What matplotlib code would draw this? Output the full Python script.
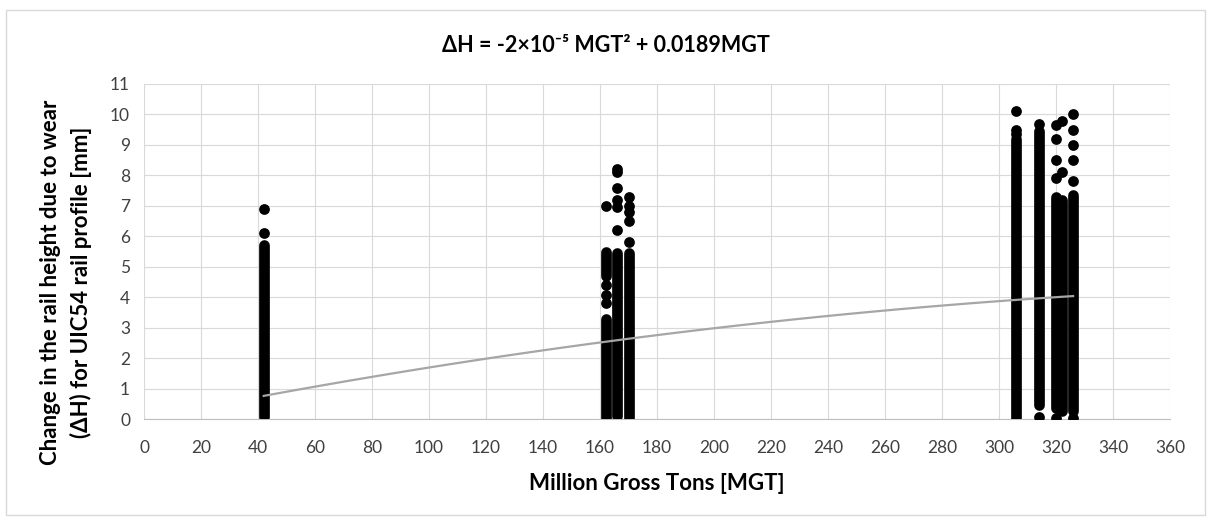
import numpy as np
import matplotlib.pyplot as plt
from matplotlib.patches import Rectangle

# MGT position of each measured column
col_x = [42, 162, 166, 170, 306, 314, 320, 322, 326]
# separate points
col_pts = [
    [6.9, 6.1],
    [7.0, 4.4, 4.07, 3.8],
    [8.2, 8.1, 7.6, 7.2, 6.95, 6.2],
    [7.3, 7.0, 6.8, 6.5, 5.8],
    [10.1, 9.5, 9.35],
    [9.7, 0.05],
    [9.65, 9.2, 8.5, 7.9, 0.03],
    [9.8, 8.1],
    [10.0, 9.5, 9.0, 8.5, 7.8, 0.03],
]
# runs where the points overlap into a solid column (lowest, highest value)
col_runs = [
    [(0.05, 5.7)],
    [(4.7, 5.5), (0.02, 3.3)],
    [(0.1, 5.45)],
    [(0.03, 5.45)],
    [(0.03, 9.2)],
    [(0.45, 9.45)],
    [(0.35, 7.3)],
    [(0.25, 7.2)],
    [(0.25, 7.35)],
]

# polynomial trendline given in the chart title
trend_coef = [-2e-5, 0.0189, 0.0]
trend_range = [42, 326]

x_ticks = list(range(0, 361, 20))
y_ticks = list(range(0, 12))

plt.rcParams['font.family'] = ['Lato', 'DejaVu Sans']

W, H = 1211, 520
fig = plt.figure(figsize=(W / 100, H / 100), dpi=100)
ax = fig.add_axes([144 / W, 1 - 419 / H, (1170 - 144) / W, (419 - 84) / H])

xs, ys = [], []
rx, rlo, rhi = [], [], []
for x, pts, runs in zip(col_x, col_pts, col_runs):
    xs += [x] * len(pts)
    ys += pts
    for lo, hi in runs:
        rx.append(x)
        rlo.append(lo)
        rhi.append(hi)
ax.scatter(xs, ys, s=60, c='black', linewidths=0, zorder=3)
ax.vlines(rx, rlo, rhi, colors='black', linewidth=7.7, capstyle='round', zorder=3)

tx = np.linspace(trend_range[0], trend_range[1], 100)
ax.plot(tx, np.polyval(trend_coef, tx), color='#a6a6a6', lw=1.6, zorder=4)

ax.set_xlim(0, 360)
ax.set_ylim(0, 11)
ax.set_xticks(x_ticks)
ax.set_yticks(y_ticks)
ax.tick_params(length=0, labelsize=12.5, labelcolor='#404040')
ax.tick_params(axis='x', pad=15)
ax.tick_params(axis='y', pad=10)
ax.grid(True, color='#d9d9d9', lw=0.8)
ax.set_axisbelow(True)
for s in ['top', 'right', 'left']:
    ax.spines[s].set_visible(False)
ax.spines['bottom'].set_color('#bfbfbf')

fig.text(657 / W, 1 - 483 / H, 'Million Gross Tons [MGT]', ha='center', va='center',
         fontsize=16, fontweight='bold')
fig.text(66 / W, 1 - 282 / H,
         'Change in the rail height due to wear\n(ΔH) for UIC54 rail profile [mm]',
         ha='center', va='center', rotation=90, multialignment='center',
         linespacing=1.45, fontsize=16, fontweight='bold')

fig.text(0.5, 1 - 45 / H, 'ΔH = -2×10⁻⁵ MGT² + 0.0189MGT', ha='center', va='center',
         fontsize=15.5, fontweight='bold')

fig.patches.append(Rectangle((6 / W, 5 / H), 1 - 12 / W, 1 - 15 / H,
                             transform=fig.transFigure, fill=False, ec='#d9d9d9', lw=1))

fig.savefig('out.png', dpi=100)
